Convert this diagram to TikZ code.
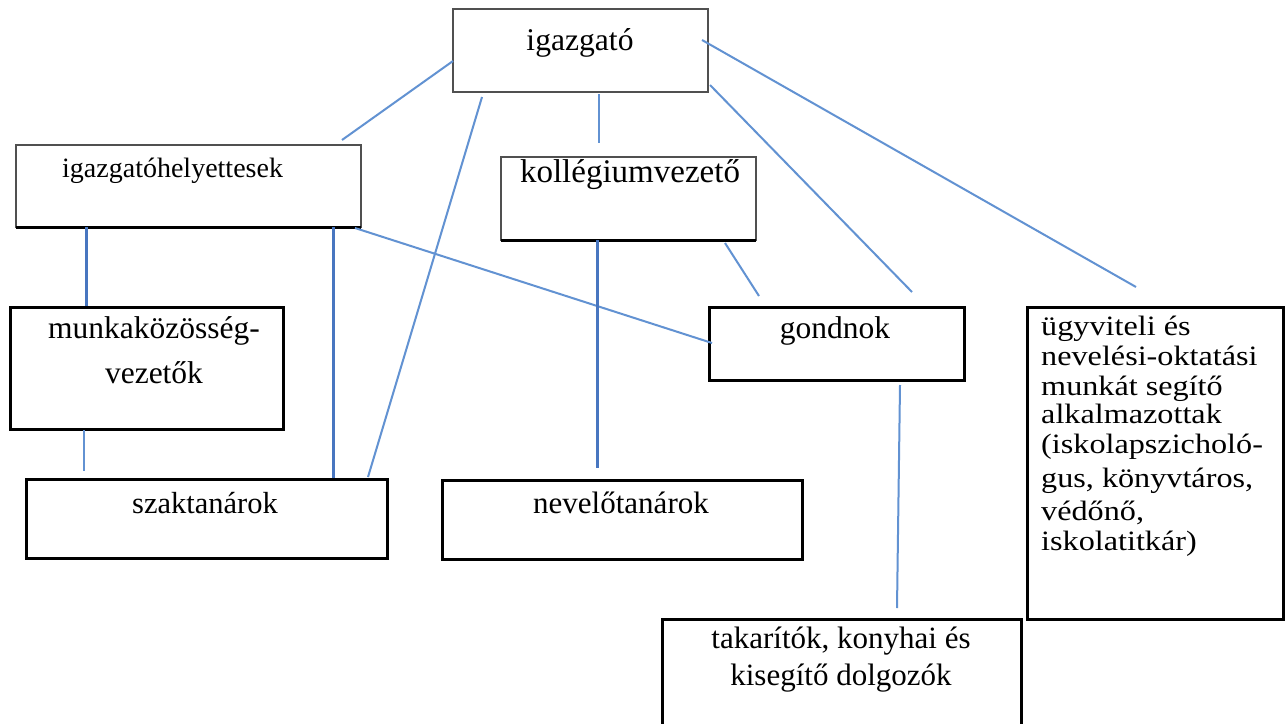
\documentclass[tikz,border=0pt]{standalone}
\usepackage{fontspec}
\setmainfont{Liberation Serif}
\newfontfamily\ugyfont[FakeStretch=1.15]{Liberation Serif}
\usetikzlibrary{calc}
\definecolor{linkthin}{RGB}{98,146,210}
\definecolor{linkthick}{RGB}{72,118,192}
\definecolor{framegray}{RGB}{80,80,80}
\begin{document}
\begin{tikzpicture}[x=1pt,y=-1pt,
  blackbox/.style={draw=black,line width=3pt,inner sep=0pt,outer sep=0pt,anchor=north west},
  graybox/.style={draw=framegray,line width=2pt,inner sep=0pt,outer sep=0pt,anchor=north west},
  lbl/.style={inner sep=0pt,anchor=base,font=\fontsize{31.5}{38}\selectfont},
  lblleft/.style={inner sep=0pt,anchor=base west,font=\ugyfont\fontsize{28}{34}\selectfont},
  thinlink/.style={draw=linkthin,line width=2pt},
  thicklink/.style={draw=linkthick,line width=3pt},
  bottomrule/.style={draw=black,line width=3pt}]
\useasboundingbox (0,0) rectangle (1287,723);
\clip (0,0) rectangle (1287,723);
\fill[white] (0,0) rectangle (1287,723);

% boxes
\node[graybox,minimum width=255pt,minimum height=83pt] (igz) at (453,9) {};
\node[graybox,minimum width=345pt,minimum height=82pt] (igh) at (16,145) {};
\node[graybox,minimum width=255pt,minimum height=83pt] (kol) at (501,157) {};
\draw[bottomrule] (igh.south west) -- (igh.south east);
\draw[bottomrule] (kol.south west) -- (kol.south east);
\node[blackbox,minimum width=273pt,minimum height=122pt] (mun) at (10,307) {};
\node[blackbox,minimum width=361pt,minimum height=79pt] (szak) at (26,479) {};
\node[blackbox,minimum width=360pt,minimum height=79pt] (nev) at (442,480) {};
\node[blackbox,minimum width=255pt,minimum height=73pt] (gon) at (709,307) {};
\node[blackbox,minimum width=256pt,minimum height=312pt] (ugy) at (1027,307) {};
\node[blackbox,minimum width=359pt,minimum height=141pt] (tak) at (662,619) {};

% labels
\node[lbl,font=\fontsize{31.6}{38}\selectfont] (igzT) at (580,50) {igazgató};
\node[lbl,anchor=base west,font=\fontsize{28}{34}\selectfont] (ighT) at (62,177) {igazgatóhelyettesek};
\node[lbl,font=\fontsize{33}{40}\selectfont] (kolT) at (630,182) {kollégiumvezető};
\node[lbl] (munT1) at (154,338) {munkaközösség-};
\node[lbl] (munT2) at (154,383) {vezetők};
\node[lbl,font=\fontsize{30.5}{37}\selectfont] (szakT) at (205,513) {szaktanárok};
\node[lbl,font=\fontsize{31}{37}\selectfont] (nevT) at (621,513) {nevelőtanárok};
\node[lbl] (gonT) at (835,338) {gondnok};
\node[lbl,font=\fontsize{31}{37}\selectfont] (takT1) at (841,648) {takarítók, konyhai és};
\node[lbl,font=\fontsize{31}{37}\selectfont] (takT2) at (841,685) {kisegítő dolgozók};
\node[lblleft] (ugyT1) at (1041,335) {ügyviteli és};
\node[lblleft] (ugyT2) at (1041,365) {nevelési-oktatási};
\node[lblleft] (ugyT3) at (1041,395) {munkát segítő};
\node[lblleft] (ugyT4) at (1041,423) {alkalmazottak};
\node[lblleft] (ugyT5) at (1041,453) {(iskolapszicholó-};
\node[lblleft] (ugyT6) at (1041,487) {gus, könyvtáros,};
\node[lblleft] (ugyT7) at (1041,520) {védőnő,};
\node[lblleft] (ugyT8) at (1041,550) {iskolatitkár)};

% connector end points
\coordinate (c1a) at ($(igz.north west)+(0,52)$);
\coordinate (c1b) at ($(igh.north east)+(-19,-5)$);
\coordinate (c2a) at ($(igz.south west)+(29,5)$);
\coordinate (c2b) at ($(szak.north east)+(-19,-2)$);
\coordinate (c3a) at ($(igz.south)+(18.5,2)$);
\coordinate (c3b) at ($(kol.north)+(-29.5,-14)$);
\coordinate (c4a) at ($(igz.south east)+(2,-7)$);
\coordinate (c4b) at ($(gon.north west)+(203,-15)$);
\coordinate (c5a) at ($(igz.north east)+(-6,31)$);
\coordinate (c5b) at ($(ugy.north west)+(109,-20)$);
\coordinate (c6a) at ($(igh.south west)+(70,0)$);
\coordinate (c6b) at ($(mun.north west)+(76,-1)$);
\coordinate (c7a) at ($(igh.south west)+(317,0)$);
\coordinate (c7b) at ($(szak.north west)+(307,-1)$);
\coordinate (c8a) at ($(igh.south east)+(-6,1)$);
\coordinate (c8b) at ($(gon.north west)+(3,36)$);
\coordinate (c9a) at ($(kol.south west)+(96,0)$);
\coordinate (c9b) at ($(nev.north west)+(155,-12)$);
\coordinate (c10a) at ($(kol.south west)+(224,3)$);
\coordinate (c10b) at ($(gon.north west)+(50,-11)$);
\coordinate (c11a) at ($(mun.south west)+(74,1)$);
\coordinate (c11b) at ($(szak.north west)+(58,-8)$);
\coordinate (c12a) at ($(gon.south west)+(191,5)$);
\coordinate (c12b) at ($(tak.north west)+(235,-11)$);

% connectors
\draw[thinlink] (c1a) -- (c1b);
\draw[thinlink] (c2a) -- (c2b);
\draw[thinlink] (c3a) -- (c3b);
\draw[thinlink] (c4a) -- (c4b);
\draw[thinlink] (c5a) -- (c5b);
\draw[thicklink] (c6a) -- (c6b);
\draw[thicklink] (c7a) -- (c7b);
\draw[thinlink] (c8a) -- (c8b);
\draw[thicklink] (c9a) -- (c9b);
\draw[thinlink] (c10a) -- (c10b);
\draw[thinlink] (c11a) -- (c11b);
\draw[thinlink] (c12a) -- (c12b);
\end{tikzpicture}
\end{document}
